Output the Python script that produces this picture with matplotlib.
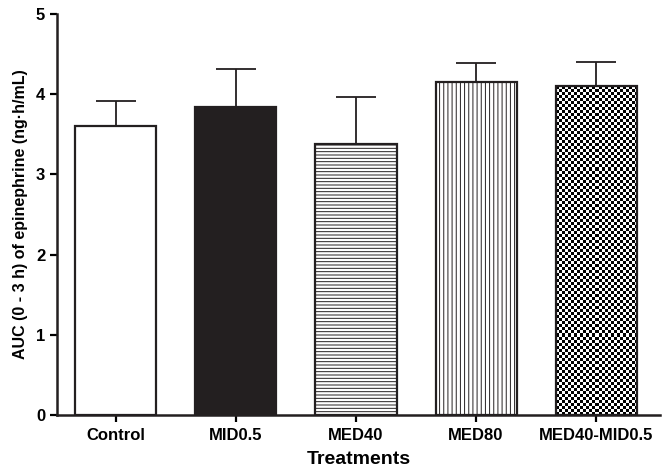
import numpy as np
import matplotlib
matplotlib.use("Agg")
import matplotlib.pyplot as plt

plt.rcParams['font.family'] = ['Liberation Sans', 'DejaVu Sans']
plt.rcParams['font.weight'] = 'bold'
plt.rcParams['hatch.linewidth'] = 0.7

# data
treatments = ['Control', 'MID0.5', 'MED40', 'MED80', 'MED40-MID0.5']
auc_mean = [3.60, 3.84, 3.38, 4.15, 4.10]
auc_sem = [0.32, 0.47, 0.59, 0.24, 0.30]

fills = ['white', '#231f20', 'white', 'white', 'none']
hatches = [None, None, '-----', '||||', None]

fig = plt.figure(figsize=(6.69, 4.68), dpi=100)
ax = fig.add_axes([0.0852, 0.1132, 0.901, 0.857])

x = np.arange(len(treatments))
bars = ax.bar(x, auc_mean, width=0.675, color=fills, edgecolor='#231f20',
              linewidth=1.6, zorder=2)
for b, h in zip(bars, hatches):
    if h:
        b.set_hatch(h)

ax.errorbar(x, auc_mean, yerr=[np.zeros(len(x)), auc_sem], fmt='none',
            ecolor='#231f20', elinewidth=1.3, capsize=14.5, capthick=1.3, zorder=1)

# checkerboard fill for the combination bar (texture only)
b = bars[4]
bx, bw, bh = b.get_x(), b.get_width(), b.get_height()
ncol = 27
nrow = int(round(ncol * bh / bw * (401 / 5) / (603 / 5.02)))
yy, xx = np.indices((nrow, ncol))
checker = (xx + yy) % 2
ax.imshow(checker, cmap='gray', extent=(bx, bx + bw, 0, bh), aspect='auto',
          interpolation='nearest', zorder=1.5, clip_path=b, clip_on=True)

ax.set_xlim(-0.49, 4.53)
ax.set_ylim(0, 5)
ax.set_yticks([0, 1, 2, 3, 4, 5])
ax.set_xticks(x)
ax.set_xticklabels(treatments, fontsize=12, fontweight='bold')
ax.tick_params(axis='y', labelsize=12, width=1.6, length=5, direction='out')
ax.tick_params(axis='x', width=1.6, length=5, direction='out', pad=4)

for s in ['top', 'right']:
    ax.spines[s].set_visible(False)
for s in ['left', 'bottom']:
    ax.spines[s].set_linewidth(1.8)
    ax.spines[s].set_color('#231f20')

ax.set_ylabel('AUC (0 - 3 h) of epinephrine (ng·h/mL)', fontsize=11.5,
              fontweight='bold', labelpad=6)
ax.set_xlabel('Treatments', fontsize=14, fontweight='bold', labelpad=6)

fig.savefig('out.png', dpi=100)
